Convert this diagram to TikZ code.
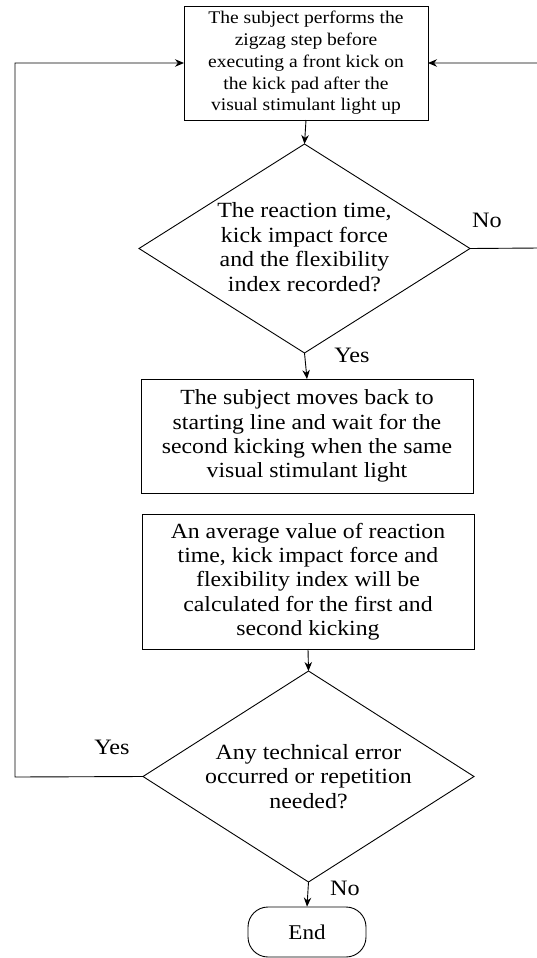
\documentclass[tikz,border=0pt]{standalone}
\usepackage{fontspec}
\setmainfont[FakeStretch=1.1]{Liberation Serif}
\usetikzlibrary{shapes.geometric,arrows.meta}
\begin{document}
\begin{tikzpicture}[x=1pt,y=-1pt,
  line width=0.9pt,
  box/.style={draw, rectangle, inner sep=0pt, outer sep=0pt, align=center},
  dia/.style={draw, diamond, inner sep=0pt, outer sep=0pt, minimum width=331pt},
  txt/.style={align=center, inner sep=0pt, font=\fontsize{21.7}{24.5}\selectfont},
  lbl/.style={inner sep=0pt, font=\fontsize{22}{24}\selectfont},
  arr/.style={-{Stealth[length=9pt,width=7.5pt]}}]
\useasboundingbox (0,0) rectangle (537,958);
\node[box, minimum width=244pt, minimum height=114pt, font=\fontsize{17.8}{21.7}\selectfont] (b1) at (306,63)
  {The subject performs the\\zigzag step before\\executing a front kick on\\the kick pad after the\\visual stimulant light up};
\node[dia, minimum height=209pt] (d1) at (304.5,248.5) {};
\node[txt] at (304.5,247) {The reaction time,\\kick impact force\\and the flexibility\\index recorded?};
\node[box, minimum width=332pt, minimum height=114pt, font=\fontsize{21.6}{24.2}\selectfont] (b2) at (307,436)
  {The subject moves back to\\starting line and wait for the\\second kicking when the same\\visual stimulant light};
\node[box, minimum width=332pt, minimum height=135pt, font=\fontsize{21.6}{24.3}\selectfont] (b3) at (308,581.5)
  {An average value of reaction\\time, kick impact force and\\flexibility index will be\\calculated for the first and\\second kicking};
\node[dia, minimum height=211pt] (d2) at (308.5,776.5) {};
\node[txt] at (d2) {Any technical error\\occurred or repetition\\needed?};
\node[draw, rectangle, rounded corners=20pt, minimum width=118pt, minimum height=50pt, inner sep=0pt, font=\fontsize{21}{24}\selectfont] (e) at (307,932) {End};
\node[lbl] (no1) at (487,220) {No};
\node[lbl] (yes1) at (352,355) {Yes};
\node[lbl] (yes2) at (112,747) {Yes};
\node[lbl] (no2) at (345,888) {No};
\coordinate (lft) at (15,777);
\coordinate (rgt) at (540,248);
\draw[arr] (b1.south) -- (d1.north);
\draw[arr] (d1.south) -- (b2.north);
\draw[arr] (b3.south) -- (d2.north);
\draw[arr] (d2.south) -- (e.north);
\draw[arr] (d2.west) -- (lft) |- (b1.west);
\draw[arr] (d1.east) -- (rgt) |- (b1.east);
\end{tikzpicture}
\end{document}
